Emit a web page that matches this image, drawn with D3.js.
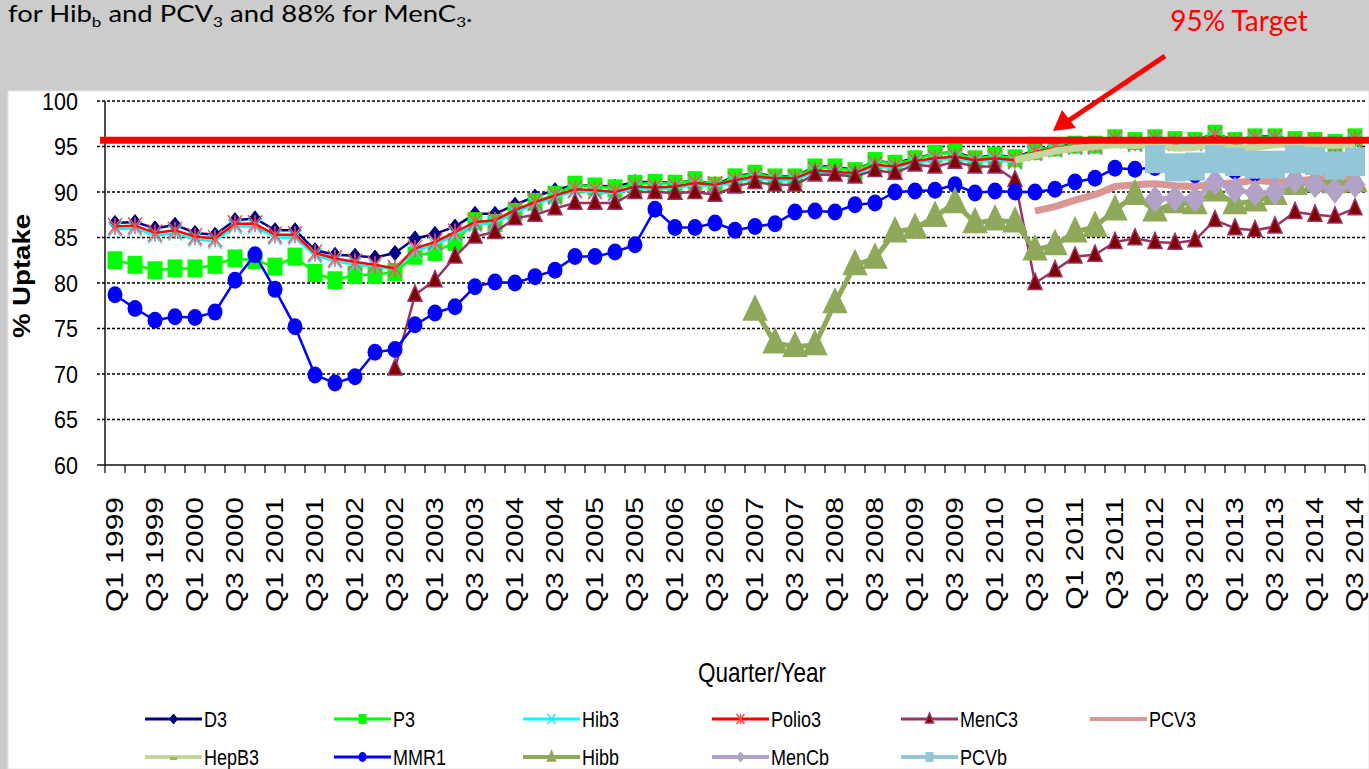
<!DOCTYPE html>
<meta charset="utf-8">
<style>
  body { margin: 0; background: #cccccc; overflow: hidden; }
  svg { display: block; }
  .axis-text { font-family: "Liberation Sans", Arial, sans-serif; fill: #000; }
</style>
<body>
<div id="chart"></div>
<script src="https://d3js.org/d3.v7.min.js"></script>
<script>

// quarters on the x axis
var quarters = [
  "Q1 1999","Q2 1999","Q3 1999","Q4 1999","Q1 2000","Q2 2000","Q3 2000","Q4 2000",
  "Q1 2001","Q2 2001","Q3 2001","Q4 2001","Q1 2002","Q2 2002","Q3 2002","Q4 2002",
  "Q1 2003","Q2 2003","Q3 2003","Q4 2003","Q1 2004","Q2 2004","Q3 2004","Q4 2004",
  "Q1 2005","Q2 2005","Q3 2005","Q4 2005","Q1 2006","Q2 2006","Q3 2006","Q4 2006",
  "Q1 2007","Q2 2007","Q3 2007","Q4 2007","Q1 2008","Q2 2008","Q3 2008","Q4 2008",
  "Q1 2009","Q2 2009","Q3 2009","Q4 2009","Q1 2010","Q2 2010","Q3 2010","Q4 2010",
  "Q1 2011","Q2 2011","Q3 2011","Q4 2011","Q1 2012","Q2 2012","Q3 2012","Q4 2012",
  "Q1 2013","Q2 2013","Q3 2013","Q4 2013","Q1 2014","Q2 2014","Q3 2014"
];

var yTicks = [60, 65, 70, 75, 80, 85, 90, 95, 100];
var targetLevel = 95.7;

// series values (% uptake)
var d3Uptake = [86.6,86.7,86.0,86.4,85.5,85.3,86.9,87.1,85.8,85.8,
  83.6,83.1,83.0,82.8,83.3,84.9,85.4,86.2,87.6,87.6,
  88.6,89.5,90.2,90.8,90.7,90.6,91.1,91.1,91.0,91.3,
  90.8,91.7,92.1,91.7,91.7,92.8,92.8,92.4,93.4,93.2,
  93.7,94.2,94.4,93.7,94.1,93.8,94.6,94.9,95.3,95.3,
  96.0,95.5,96.0,95.7,95.7,96.4,95.7,96.1,96.1,95.7,
  95.7,95.4,96.0];

var p3Uptake = [82.5,82.0,81.4,81.6,81.6,82.0,82.7,82.5,81.8,82.9,
  81.1,80.3,80.9,80.9,81.2,83.0,83.4,84.5,86.8,86.6,
  87.8,88.9,89.7,90.8,90.6,90.4,90.9,91.0,90.9,91.3,
  90.7,91.6,92.0,91.6,91.6,92.7,92.7,92.3,93.4,93.1,
  93.6,94.2,94.3,93.6,94.0,93.7,94.5,94.9,95.2,95.2,
  95.9,95.6,95.9,95.7,95.6,96.4,95.6,96.0,96.0,95.7,
  95.6,95.4,96.0];

var hib3Uptake = [85.9,86.0,85.2,85.5,84.8,84.6,86.2,86.2,85.0,85.0,
  83.0,82.4,82.0,81.8,81.5,83.5,84.2,85.3,86.4,86.6,
  87.7,88.7,89.4,90.1,90.0,89.8,90.4,90.3,90.4,90.8,
  90.6,91.1,91.5,91.3,91.3,92.2,92.0,91.9,92.8,92.6,
  93.2,93.5,93.7,93.3,93.5,93.3,94.2,94.6,94.9,94.9,
  95.6,95.2,95.6,95.3,95.3,96.0,95.3,95.7,95.7,95.3,
  95.3,95.0,95.6];

var polio3Uptake = [86.2,86.3,85.5,85.8,85.1,84.9,86.5,86.5,85.3,85.3,
  83.3,82.7,82.3,82.0,81.6,83.8,84.5,85.6,86.7,86.9,
  88.0,88.9,89.6,90.3,90.2,90.0,90.6,90.5,90.6,91.0,
  90.8,91.3,91.7,91.5,91.5,92.4,92.2,92.1,93.0,92.8,
  93.4,93.7,93.9,93.5,93.7,93.5,94.4,94.8,95.1,95.1,
  95.8,95.4,95.8,95.5,95.5,96.2,95.5,95.9,95.9,95.5,
  95.5,95.2,95.8];

var menC3Start = 14;
var menC3Uptake = [70.6,78.7,80.3,82.9,85.1,85.6,87.1,87.5,88.2,88.8,
  88.8,88.8,90.0,90.0,89.9,90.0,89.7,90.6,91.1,90.8,
  90.8,91.9,91.9,91.7,92.4,92.1,93.0,92.8,93.3,92.8,
  92.8,91.3,80.0,81.4,82.9,83.1,84.5,84.9,84.5,84.4,
  84.7,86.9,86.0,85.8,86.2,87.8,87.5,87.3,88.2];

var pcv3Start = 46;
var pcv3Uptake = [87.9,88.4,89.1,89.7,90.6,90.8,90.9,90.7,90.6,90.9,
  91.0,91.3,91.1,91.2,91.4,91.6,91.7];

var hepB3Start = 45;
var hepB3Uptake = [93.5,94.0,94.5,94.8,95.0,95.2,95.1,95.3,94.8,94.9,
  95.3,94.8,94.9,95.2,95.3,95.2,95.1,95.3];

var mmr1Uptake = [78.7,77.2,75.9,76.3,76.2,76.8,80.3,83.1,79.3,75.2,
  69.9,69.0,69.7,72.4,72.7,75.4,76.7,77.4,79.6,80.1,
  80.0,80.7,81.4,82.9,82.9,83.4,84.2,88.1,86.1,86.1,
  86.6,85.8,86.2,86.5,87.8,87.9,87.8,88.6,88.8,90.0,
  90.1,90.2,90.8,89.9,90.1,90.0,90.0,90.3,91.1,91.5,
  92.6,92.5,92.7,92.5,91.9,92.9,92.3,92.1,92.4,92.7,
  92.6,92.8,92.9];

var hibbStart = 32;
var hibbUptake = [77.0,73.4,73.0,73.2,77.8,82.0,82.7,85.6,86.0,87.3,
  88.8,86.6,86.9,86.7,83.6,84.2,85.6,86.2,88.0,89.7,
  87.9,88.8,88.7,90.1,88.7,89.0,89.7,90.8,91.1,91.0,91.1];

var menCbStart = 52;
var menCbUptake = [89.2,89.3,89.2,91.1,90.2,89.9,90.0,91.3,90.8,90.2,90.8];

var pcvbStart = 52;
var pcvbUptake = [93.6,92.7,92.8,93.6,93.3,93.0,93.0,93.6,93.4,92.9,93.3];

// series styles, in drawing order
var series = [
  {name: "D3",     start: 0,          values: d3Uptake,     color: "#000080", lw: 2.5, marker: "diamond",  mw: 12, mh: 15, fill: "#000080", stroke: "#000080"},
  {name: "P3",     start: 0,          values: p3Uptake,     color: "#00ff00", lw: 2.5, marker: "square",   mw: 15, mh: 18, fill: "#00ff00", stroke: "#00ff00"},
  {name: "Hib3",   start: 0,          values: hib3Uptake,   color: "#00ffff", lw: 2.5, marker: "cross",    mw: 13, mh: 15, fill: "none",    stroke: "#33ddff"},
  {name: "Polio3", start: 0,          values: polio3Uptake, color: "#ff0000", lw: 2.5, marker: "asterisk", mw: 14, mh: 17, fill: "none",    stroke: "#ff5050"},
  {name: "MenC3",  start: menC3Start, values: menC3Uptake,  color: "#993366", lw: 2.5, marker: "triangle", mw: 14, mh: 16, fill: "#800000", stroke: "#993366"},
  {name: "PCV3",   start: pcv3Start,  values: pcv3Uptake,   color: "#d99694", lw: 7,   marker: null},
  {name: "HepB3",  start: hepB3Start, values: hepB3Uptake,  color: "#c3d69b", lw: 7,   marker: null},
  {name: "MMR1",   start: 0,          values: mmr1Uptake,   color: "#0000ff", lw: 2.5, marker: "circle",   mw: 15, mh: 17, fill: "#0000ff", stroke: "#0000ff"},
  {name: "Hibb",   start: hibbStart,  values: hibbUptake,   color: "#8fa95a", lw: 5,   marker: "triangle", mw: 23, mh: 24, fill: "#8fa95a", stroke: "#8fa95a"},
  {name: "MenCb",  start: menCbStart, values: menCbUptake,  color: "#b3a2c7", lw: 5,   marker: "diamond",  mw: 20, mh: 26, fill: "#b3a2c7", stroke: "#b3a2c7"},
  {name: "PCVb",   start: pcvbStart,  values: pcvbUptake,   color: "#93c6d6", lw: 5,   marker: "square",   mw: 20, mh: 28, fill: "#93c6d6", stroke: "#93c6d6"}
];

var width = 1369, height = 769;

var svg = d3.select("#chart").append("svg")
    .attr("width", width)
    .attr("height", height);

svg.append("rect").attr("width", width).attr("height", height).attr("fill", "#cccccc");
// white chart panel
svg.append("rect")
    .attr("x", 8).attr("y", 91)
    .attr("width", width - 8).attr("height", height - 91)
    .attr("fill", "#fff").attr("stroke", "#e4e4e4");

// slide text above the chart
var note = svg.append("text")
    .attr("transform", "translate(8,22) scale(1.22,1)")
    .style("font-family", "Lato, 'Open Sans', sans-serif")
    .style("font-size", "22.5px")
    .attr("fill", "#000");
note.append("tspan").text("for Hib");
note.append("tspan").attr("dy", 5).style("font-size", "14px").text("b");
note.append("tspan").attr("dy", -5).text(" and PCV");
note.append("tspan").attr("dy", 5).style("font-size", "14px").text("3");
note.append("tspan").attr("dy", -5).text(" and 88% for MenC");
note.append("tspan").attr("dy", 5).style("font-size", "14px").text("3");
note.append("tspan").attr("dy", -5).text(".");

svg.append("text")
    .attr("x", 1239).attr("y", 31)
    .attr("text-anchor", "middle")
    .style("font-family", "Lato, 'Open Sans', sans-serif")
    .style("font-size", "28px")
    .attr("fill", "#ff0000")
    .text("95% Target");

// scales
var x = d3.scaleBand().domain(quarters).range([105, 1365]);
var y = d3.scaleLinear().domain([60, 100]).range([465, 101]);
var cx = function(i) { return x(quarters[i]) + x.bandwidth() / 2; };

// gridlines
svg.append("g").selectAll("line")
    .data(yTicks.slice(1))
  .enter().append("line")
    .attr("x1", 97).attr("x2", 1365)
    .attr("y1", function(d) { return y(d); })
    .attr("y2", function(d) { return y(d); })
    .attr("stroke", "#000")
    .attr("stroke-width", 1.3)
    .attr("stroke-dasharray", "3,2");

// axes
svg.append("line").attr("x1", 105).attr("x2", 105).attr("y1", y(100)).attr("y2", y(60))
    .attr("stroke", "#111").attr("stroke-width", 1.5);
svg.append("line").attr("x1", 97).attr("x2", 1365).attr("y1", y(60)).attr("y2", y(60))
    .attr("stroke", "#111").attr("stroke-width", 1.5);

// x ticks at quarter boundaries
var bounds = quarters.map(function(q) { return x(q); }).concat([x.range()[1]]);
svg.append("g").selectAll("line")
    .data(bounds)
  .enter().append("line")
    .attr("x1", function(d) { return d; }).attr("x2", function(d) { return d; })
    .attr("y1", y(60)).attr("y2", y(60) + 8)
    .attr("stroke", "#111").attr("stroke-width", 1.3);

// y tick labels
svg.append("g").selectAll("text")
    .data(yTicks)
  .enter().append("text")
    .attr("class", "axis-text")
    .attr("transform", function(d) { return "translate(78," + y(d) + ") scale(1,1.13)"; })
    .attr("dy", "0.35em")
    .attr("text-anchor", "end")
    .style("font-size", "21.5px")
    .text(function(d) { return d; });

// x tick labels (every other quarter)
svg.append("g").selectAll("text")
    .data(quarters.filter(function(q, i) { return i % 2 === 0; }))
  .enter().append("text")
    .attr("class", "axis-text")
    .attr("transform", function(d) {
      return "translate(" + (x(d) + x.bandwidth() / 2) + ",497) rotate(-90) scale(1.25,1)";
    })
    .attr("dy", "0.35em")
    .attr("text-anchor", "end")
    .style("font-size", "24px")
    .text(function(d) { return d; });

// axis titles
svg.append("text")
    .attr("class", "axis-text")
    .attr("transform", "translate(30,276) rotate(-90) scale(1.2,1)")
    .attr("text-anchor", "middle")
    .style("font-size", "23px")
    .style("font-weight", "bold")
    .text("% Uptake");

svg.append("text")
    .attr("class", "axis-text")
    .attr("transform", "translate(762,682) scale(1,1.25)")
    .attr("text-anchor", "middle")
    .style("font-size", "22.5px")
    .text("Quarter/Year");

// marker drawing
function drawMarker(g, type, px, py, w, h, fill, stroke) {
  if (type === "diamond") {
    g.append("path")
      .attr("d", "M" + px + "," + (py - h / 2) + "L" + (px + w / 2) + "," + py +
                 "L" + px + "," + (py + h / 2) + "L" + (px - w / 2) + "," + py + "Z")
      .attr("fill", fill).attr("stroke", stroke).attr("stroke-width", 1);
  } else if (type === "square") {
    g.append("rect")
      .attr("x", px - w / 2).attr("y", py - h / 2).attr("width", w).attr("height", h)
      .attr("fill", fill);
  } else if (type === "triangle") {
    g.append("path")
      .attr("d", "M" + px + "," + (py - h * 0.6) + "L" + (px + w / 2) + "," + (py + h * 0.4) +
                 "L" + (px - w / 2) + "," + (py + h * 0.4) + "Z")
      .attr("fill", fill).attr("stroke", stroke).attr("stroke-width", 1.5);
  } else if (type === "circle") {
    g.append("ellipse")
      .attr("cx", px).attr("cy", py).attr("rx", w / 2).attr("ry", h / 2)
      .attr("fill", fill);
  } else if (type === "cross" || type === "asterisk") {
    var d = "M" + (px - w / 2) + "," + (py - h / 2) + "L" + (px + w / 2) + "," + (py + h / 2) +
            "M" + (px + w / 2) + "," + (py - h / 2) + "L" + (px - w / 2) + "," + (py + h / 2);
    if (type === "asterisk") d += "M" + px + "," + (py - h / 2) + "L" + px + "," + (py + h / 2);
    g.append("path").attr("d", d).attr("stroke", stroke).attr("stroke-width", 1.5).attr("fill", "none");
  }
}

var line = d3.line()
    .x(function(d) { return cx(d.i); })
    .y(function(d) { return y(d.v); });

series.forEach(function(s) {
  var pts = s.values.map(function(v, k) { return {i: s.start + k, v: v}; });
  var g = svg.append("g").attr("class", "series");
  g.append("path")
      .datum(pts)
      .attr("d", line)
      .attr("fill", "none")
      .attr("stroke", s.color)
      .attr("stroke-width", s.lw)
      .attr("stroke-linejoin", "round");
  if (s.marker) {
    pts.forEach(function(p) {
      drawMarker(g, s.marker, cx(p.i), y(p.v), s.mw, s.mh, s.fill, s.stroke);
    });
  }
});

// 95% target line and arrow
svg.append("line")
    .attr("x1", 100).attr("x2", width)
    .attr("y1", y(targetLevel)).attr("y2", y(targetLevel))
    .attr("stroke", "#ff0000").attr("stroke-width", 7);

svg.append("line")
    .attr("x1", 1165).attr("y1", 56).attr("x2", 1068).attr("y2", 121)
    .attr("stroke", "#ff0000").attr("stroke-width", 5);
svg.append("path")
    .attr("d", "M1053,131L1062,110L1076,128Z")
    .attr("fill", "#ff0000");

// legend
var legend = svg.append("g").attr("class", "legend");
series.forEach(function(s, i) {
  var lx = 145 + (i % 6) * 189;
  var ly = 719 + Math.floor(i / 6) * 38;
  var item = legend.append("g");
  item.append("line")
      .attr("x1", lx).attr("x2", lx + 57)
      .attr("y1", ly).attr("y2", ly)
      .attr("stroke", s.color)
      .attr("stroke-width", s.lw > 3 ? 4 : 3);
  if (s.marker) {
    drawMarker(item, s.marker, lx + 28.5, ly, 8, 10, s.fill, s.stroke);
  } else if (s.name === "HepB3") {
    item.append("rect").attr("x", lx + 25).attr("y", ly).attr("width", 7).attr("height", 3).attr("fill", "#9bbb59");
  }
  item.append("text")
      .attr("class", "axis-text")
      .attr("transform", "translate(" + (lx + 59) + "," + ly + ") scale(1,1.25)")
      .attr("dy", "0.35em")
      .style("font-size", "18px")
      .text(s.name);
});

</script>
</body>
